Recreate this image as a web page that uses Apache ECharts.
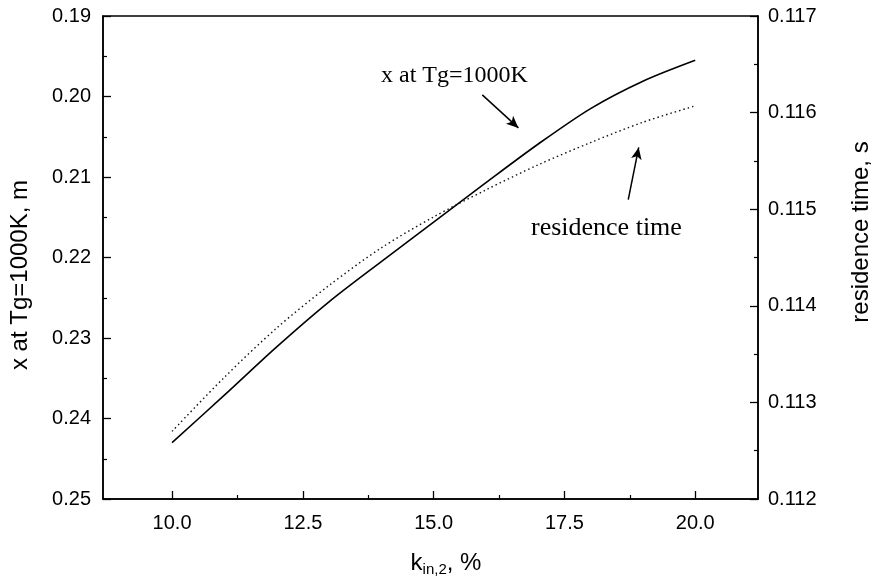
<!DOCTYPE html>
<html><head><meta charset="utf-8">
<script src="https://cdn.jsdelivr.net/npm/echarts@6/dist/echarts.min.js"></script>
<style>html,body{margin:0;padding:0;background:#fff}#c{width:875px;height:587px}</style>
</head><body><div id="c"></div>
<script>
// Data
const kValues = [10, 11, 12, 13, 14, 15, 16, 17, 18, 19, 20];
const xAtTg = [0.2430, 0.2371, 0.2311, 0.2255, 0.2205, 0.2156, 0.2107, 0.2059, 0.2015, 0.1981, 0.1955];
const residenceTime = [0.11270, 0.11326, 0.11377, 0.11421, 0.11460, 0.11492, 0.11520, 0.11546, 0.11569, 0.11590, 0.11607];
const xTickValues = [10, 12.5, 15, 17.5, 20];
const xMinorTickValues = [11.25, 13.75, 16.25, 18.75];
// annotation arrows (data coordinates)
const arrowXTg = [[15.93, 0.1998], [16.62, 0.2039]];
const arrowResidence = [[18.72, 0.11510], [18.92, 0.11564]];

const chart = echarts.init(document.getElementById('c'), null, {renderer: 'canvas'});
const sans = '"Liberation Sans", Arial, Helvetica, sans-serif';
const serif = '"Liberation Serif", "Times New Roman", serif';
const black = '#000';

const option = {
  backgroundColor: '#fff',
  animation: false,
  grid: {left: 103, right: 117, top: 16, bottom: 88, show: true, borderColor: black, borderWidth: 1.5, backgroundColor: 'transparent'},
  xAxis: [{
    type: 'value', min: 8.68, max: 21.2, position: 'bottom',
    axisLine: {show: true, lineStyle: {color: black, width: 1.5}},
    axisTick: {show: true, inside: true, length: 8, customValues: xTickValues, lineStyle: {color: black, width: 1.3}},
    axisLabel: {show: true, customValues: xTickValues, formatter: v => v.toFixed(1), fontSize: 20, fontFamily: sans, color: black, margin: 14},
    splitLine: {show: false}
  }, {
    type: 'value', min: 8.68, max: 21.2, position: 'bottom',
    axisLine: {show: false},
    axisTick: {show: true, inside: true, length: 4, customValues: xMinorTickValues, lineStyle: {color: black, width: 1.2}},
    axisLabel: {show: false},
    splitLine: {show: false}
  }],
  yAxis: [{
    type: 'value', min: 0.19, max: 0.25, interval: 0.01, inverse: true, position: 'left',
    axisLine: {show: true, lineStyle: {color: black, width: 1.5}},
    axisTick: {show: true, inside: true, length: 8, lineStyle: {color: black, width: 1.3}},
    minorTick: {show: true, splitNumber: 2, length: 4, lineStyle: {color: black, width: 1.2}},
    axisLabel: {formatter: v => v.toFixed(2), fontSize: 20, fontFamily: sans, color: black, margin: 12},
    splitLine: {show: false}, minorSplitLine: {show: false}
  }, {
    type: 'value', min: 0.112, max: 0.117, interval: 0.001, position: 'right',
    axisLine: {show: true, lineStyle: {color: black, width: 1.5}},
    axisTick: {show: true, inside: true, length: 8, lineStyle: {color: black, width: 1.3}},
    minorTick: {show: true, splitNumber: 2, length: 4, lineStyle: {color: black, width: 1.2}},
    axisLabel: {formatter: v => v.toFixed(3), fontSize: 20, fontFamily: sans, color: black, margin: 10},
    splitLine: {show: false}, minorSplitLine: {show: false}
  }],
  series: [{
    name: 'x at Tg=1000K', type: 'line', xAxisIndex: 0, yAxisIndex: 0,
    data: kValues.map((k, i) => [k, xAtTg[i]]),
    smooth: 0.3, showSymbol: false, symbol: 'none',
    lineStyle: {color: black, width: 1.6, type: 'solid'},
    markLine: {
      silent: true, symbol: ['none', 'arrow'], symbolSize: [8, 12],
      lineStyle: {color: black, width: 1.5, type: 'solid'}, label: {show: false},
      data: [[{coord: arrowXTg[0]}, {coord: arrowXTg[1]}]]
    }
  }, {
    name: 'residence time', type: 'line', xAxisIndex: 0, yAxisIndex: 1,
    data: kValues.map((k, i) => [k, residenceTime[i]]),
    smooth: 0.3, showSymbol: false, symbol: 'none',
    lineStyle: {color: '#111', width: 1.4, type: [1.5, 3]},
    markLine: {
      silent: true, symbol: ['none', 'arrow'], symbolSize: [8, 12],
      lineStyle: {color: black, width: 1.5, type: 'solid'}, label: {show: false},
      data: [[{coord: arrowResidence[0]}, {coord: arrowResidence[1]}]]
    }
  }],
  graphic: [
    {type: 'text', x: 381, y: 76, style: {text: 'x at Tg=1000K', font: '24px ' + serif, fill: black, textVerticalAlign: 'middle', textAlign: 'left'}},
    {type: 'text', x: 531, y: 228, style: {text: 'residence time', font: '26px ' + serif, fill: black, textVerticalAlign: 'middle', textAlign: 'left'}},
    {type: 'text', x: 20, y: 275, rotation: Math.PI / 2, style: {text: 'x at Tg=1000K, m', font: '24px ' + sans, fill: black, textVerticalAlign: 'middle', textAlign: 'center'}},
    {type: 'text', x: 861, y: 232, rotation: Math.PI / 2, style: {text: 'residence time, s', font: '24px ' + sans, fill: black, textVerticalAlign: 'middle', textAlign: 'center'}},
    {type: 'text', x: 446, y: 563, style: {
      text: '{k|k}{sub|in,2}{k|, %}', textAlign: 'center', textVerticalAlign: 'middle',
      rich: {
        k: {fontSize: 24, fontFamily: sans, fill: black, color: black},
        sub: {fontSize: 15, fontFamily: sans, fill: black, color: black, padding: [13, 0, 0, 0]}
      }
    }}
  ]
};
chart.setOption(option);
</script>
</body></html>
